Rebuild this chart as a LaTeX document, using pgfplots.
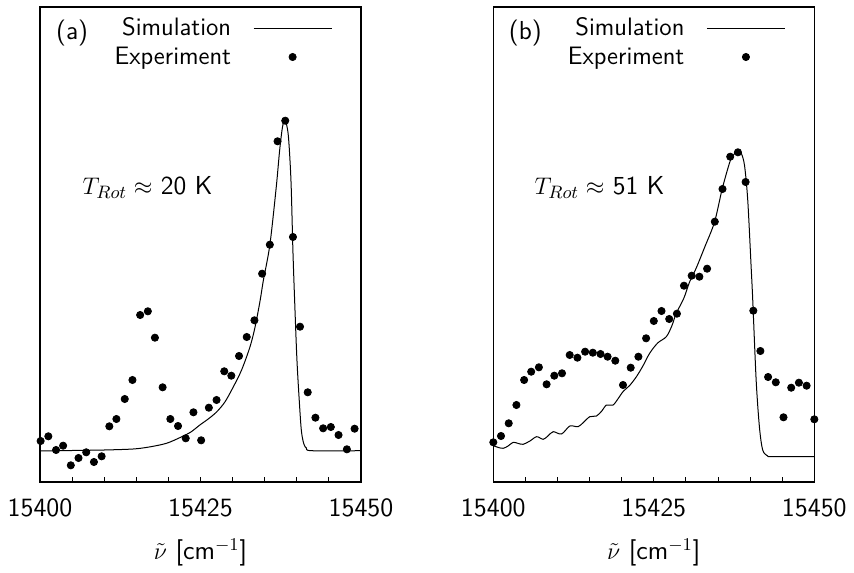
\documentclass[border=0pt]{standalone}
\usepackage{pgfplots}
\pgfplotsset{compat=1.18}
\begin{document}
\begin{tikzpicture}[font=\fontsize{13}{15.6}\selectfont\sffamily]
\useasboundingbox (-20pt,-45pt) rectangle (407pt,241pt);
\pgfplotsset{
  myaxis/.style={
    width=160.5pt, height=237.5pt, scale only axis,
    xmin=15400, xmax=15450, ymin=0, ymax=475,
    xtick={15400,15425,15450},
    minor xtick={15405,15410,15415,15420,15430,15435,15440,15445},
    ytick=\empty,
    xtick pos=bottom,
    tick align=inside,
    scaled x ticks=false,
    major tick length=2.5pt, minor tick length=2.5pt,
    axis line style={line width=0.8pt},
    every tick/.append style={black, line width=0.5pt},
    /pgf/number format/assume math mode=true,
    /pgf/number format/set thousands separator={},
    /pgf/number format/fixed,
    tick label style={font=\fontsize{13.2}{16}\selectfont\sffamily},
    xticklabel style={yshift=-5pt},
    xlabel={$\tilde{\nu}$ [cm$^{-1}$]},
    xlabel style={yshift=-4pt},
    label style={font=\fontsize{13.2}{16}\selectfont\sffamily},
    legend plot pos=right,
    legend cell align=right,
    legend style={draw=none, fill=none, at={(axis description cs:0.93,0.995)}, anchor=north east, row sep=0pt, column sep=9pt, font=\fontsize{12.6}{15}\selectfont\sffamily},
    legend image code/.code={\draw[mark repeat=2,mark phase=2,#1] plot coordinates {(0pt,0pt) (19.5pt,0pt) (39pt,0pt)};},
  },
  simline/.style={black, line width=0.5pt, no marks, smooth, tension=0.5},
  expdots/.style={black, only marks, mark=*, mark size=1.8pt},
}
\begin{axis}[myaxis, at={(0pt,0pt)}, anchor=south west]
\addplot[simline] coordinates {
(15400,31) (15405,31.5) (15410,32) (15414.5,33) (15417,35) (15419.7,38.7)
(15422,45) (15423.5,50) (15424.9,57) (15426.2,63) (15427.5,70) (15428.8,80)
(15430.1,95) (15431.4,112) (15432.7,135) (15433.5,155) (15434.3,182) (15434.8,202)
(15435.8,237) (15436.8,295) (15437.3,330) (15437.7,352) (15438.0,361) (15438.3,360) (15438.7,345)
(15439.1,300) (15439.4,230) (15439.7,175) (15440.0,125) (15440.3,90) (15440.7,52)
(15441.1,38) (15441.5,34) (15442.3,31.3) (15450,31.3)
};
\addlegendentry{Simulation}
\addplot[expdots] coordinates {
(15400.1,41) (15401.3,45.7) (15402.5,32) (15403.6,36.3) (15404.8,16.7) (15406.0,24)
(15407.2,29.7) (15408.4,20) (15409.6,25.7) (15410.8,55.7) (15411.9,63) (15413.2,83)
(15414.4,102) (15415.6,167) (15416.8,170.7) (15417.9,144.3) (15419.1,94.7) (15420.3,63)
(15421.5,56) (15422.7,43.7) (15423.9,69.7) (15425.1,41.7) (15426.3,74.3) (15427.5,82)
(15428.7,110.7) (15429.8,106.3) (15431.0,126) (15432.2,145) (15433.4,161.7) (15434.6,208.3)
(15435.8,237.3) (15437.0,340.7) (15438.2,361.3) (15439.4,245) (15440.5,155.3) (15441.7,89.7)
(15442.9,64.3) (15444.1,53.7) (15445.3,55) (15446.5,47) (15447.8,32.7) (15449.0,53.3)
};
\addlegendentry{Experiment}
\node[anchor=center] at (axis description cs:0.1,0.945) {(a)};
\node[anchor=center] at (axis description cs:0.335,0.621) {$T_{Rot}\approx$ 20 K};
\end{axis}
\begin{axis}[myaxis, at={(226.65pt,0pt)}, anchor=south west]
\addplot[simline] coordinates {
(15400.0,36.3) (15400.8,34.5) (15401.55,33.7) (15402.3,36) (15403.1,39.7) (15403.9,38.5) (15404.66,37.7)
(15405.7,41) (15406.75,45.3) (15407.77,42.7) (15408.5,46) (15409.33,50.3) (15410.63,48)
(15411.92,56) (15413.21,55.3) (15414.1,60) (15415.03,65.3) (15416.07,66) (15416.9,71)
(15417.62,77) (15418.65,77) (15419.4,83) (15420.2,90.3) (15421.3,97) (15422.29,105.3)
(15423.3,116) (15424.35,128.7) (15425.6,139) (15426.95,145.3) (15427.8,156) (15428.5,168.7)
(15429.69,184) (15430.57,200) (15431.61,214) (15433.0,236) (15434.46,260) (15435.65,293)
(15436.79,319) (15437.3,326) (15437.83,330) (15438.3,331) (15438.61,329) (15439.12,317)
(15439.63,282) (15440.16,215) (15440.41,182) (15440.94,102) (15441.45,55) (15441.96,32)
(15442.74,26) (15443.5,25.3) (15450,25.3)
};
\addlegendentry{Simulation}
\addplot[expdots] coordinates {
(15400.0,39.7) (15401.2,46) (15402.4,58.7) (15403.6,77) (15404.8,102) (15405.9,110.3)
(15407.1,114.7) (15408.3,97.7) (15409.5,106.3) (15410.7,108.7) (15411.9,127) (15413.1,124.3)
(15414.3,130.3) (15415.5,129.3) (15416.7,128) (15417.8,125.3) (15419.0,121.3) (15420.2,97)
(15421.4,114.3) (15422.6,125.3) (15423.8,143.7) (15425.0,161) (15426.2,171) (15427.4,163)
(15428.6,168.3) (15429.7,196.3) (15430.9,206.3) (15432.1,205.3) (15433.3,213.3) (15434.5,260.3)
(15435.7,293) (15436.9,325.3) (15438.1,329.7) (15439.3,300) (15440.5,171.3) (15441.6,131)
(15442.8,105) (15444.0,99.7) (15445.2,64.7) (15446.4,94.3) (15447.6,99.3) (15448.8,96.3)
(15450.0,62.7)
};
\addlegendentry{Experiment}
\node[anchor=center] at (axis description cs:0.1,0.945) {(b)};
\node[anchor=center] at (axis description cs:0.331,0.621) {$T_{Rot}\approx$ 51 K};
\end{axis}
\end{tikzpicture}
\end{document}
